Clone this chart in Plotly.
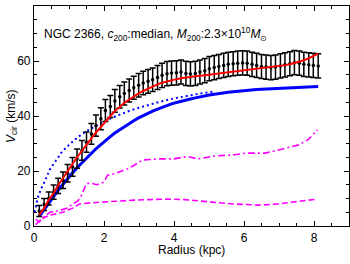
import plotly.graph_objects as go

# observed rotation curve
radius = [0.15, 0.29, 0.42, 0.56, 0.69, 0.83, 0.96, 1.10, 1.23, 1.37, 1.50, 1.64, 1.77, 1.91, 2.04,
          2.18, 2.31, 2.45, 2.58, 2.72, 2.85, 2.99, 3.12, 3.26, 3.39, 3.53, 3.66, 3.80, 3.93, 4.07,
          4.20, 4.34, 4.47, 4.61, 4.74, 4.88, 5.01, 5.15, 5.28, 5.42, 5.55, 5.69, 5.82, 5.96, 6.09,
          6.23, 6.36, 6.50, 6.63, 6.77, 6.90, 7.04, 7.17, 7.31, 7.44, 7.58, 7.71, 7.85, 7.98, 8.12]
v_obs = [5.5, 7.8, 10.0, 12.3, 14.6, 16.6, 19.2, 21.5, 24.5, 27.5, 30.5, 33.5, 36.5, 39.0, 42.0,
         43.5, 45.5, 47.0, 48.2, 49.3, 50.3, 51.2, 52.0, 52.6, 53.2, 54.0, 54.8, 55.4, 55.6, 55.7,
         56.0, 55.5, 55.3, 55.5, 56.0, 56.5, 57.2, 57.6, 58.0, 58.4, 58.8, 59.0, 59.2, 59.3, 59.2,
         58.8, 58.4, 58.0, 57.8, 57.6, 57.8, 58.2, 58.6, 59.0, 59.4, 59.2, 58.8, 58.6, 58.4, 58.2]
v_err = [2.0, 2.2, 2.4, 2.6, 2.8, 3.0, 3.2, 3.4, 3.5, 3.6, 3.7, 3.8, 3.9, 4.0, 4.0,
         4.0, 4.1, 4.1, 4.2, 4.2, 4.2, 4.3, 4.3, 4.3, 4.3, 4.4, 4.4, 4.4, 4.4, 4.4,
         4.4, 4.4, 4.4, 4.4, 4.4, 4.4, 4.4, 4.4, 4.4, 4.4, 4.4, 4.4, 4.4, 4.4, 4.4,
         4.4, 4.4, 4.4, 4.4, 4.4, 4.4, 4.4, 4.4, 4.4, 4.4, 4.4, 4.4, 4.4, 4.4, 4.4]

# total model fit (red)
v_total = [4.0, 6.5, 9.5, 12.0, 14.8, 17.5, 20.0, 22.5, 25.0, 27.3, 29.6, 31.8, 34.0, 36.0, 38.0,
           40.0, 41.8, 43.3, 44.8, 46.0, 47.2, 48.2, 49.1, 50.0, 50.8, 51.5, 52.1, 52.6, 53.0, 53.4,
           53.7, 54.0, 54.2, 54.4, 54.6, 54.8, 55.0, 55.2, 55.4, 55.6, 55.8, 56.0, 56.2, 56.5, 56.7,
           56.9, 57.1, 57.3, 57.5, 57.8, 58.0, 58.3, 58.5, 58.8, 59.2, 59.7, 60.3, 61.0, 61.8, 62.7]

# dark matter halo (blue solid)
v_halo = [3.5, 6.0, 8.5, 10.8, 13.0, 15.2, 17.3, 19.3, 21.2, 23.0, 24.8, 26.5, 28.1, 29.6, 31.1,
          32.5, 33.8, 35.0, 36.2, 37.3, 38.3, 39.3, 40.2, 41.0, 41.8, 42.5, 43.2, 43.8, 44.4, 44.9,
          45.4, 45.8, 46.2, 46.6, 47.0, 47.3, 47.6, 47.9, 48.2, 48.4, 48.6, 48.8, 49.0, 49.2, 49.35,
          49.5, 49.6, 49.7, 49.8, 49.9, 50.0, 50.1, 50.2, 50.3, 50.35, 50.4, 50.5, 50.55, 50.6, 50.7]

# blue dotted curve
r_dot = [0.02, 0.1, 0.2, 0.3, 0.45, 0.6, 0.8, 1.0, 1.25, 1.5, 1.75, 2.0, 2.25, 2.5, 2.75,
         3.0, 3.3, 3.6, 4.0, 4.4, 4.8, 5.1]
v_dot = [5.0, 10.0, 13.5, 16.0, 20.5, 23.5, 27.0, 29.5, 32.3, 34.5, 36.3, 38.0, 39.5, 40.8, 42.0,
         43.0, 44.2, 45.2, 46.4, 47.4, 48.3, 48.8]

# gas (magenta dashed)
r_gas = [0.05, 0.2, 0.46, 0.83, 1.1, 1.3, 1.6, 1.9, 2.4, 2.85, 3.3, 3.8, 4.3, 5.0, 5.7,
         6.4, 6.9, 7.4, 7.85, 8.1]
v_gas = [0.5, 2.5, 4.0, 5.0, 6.5, 8.0, 8.4, 8.7, 9.1, 9.4, 9.6, 9.8, 9.6, 8.7, 8.0,
         7.6, 7.9, 8.7, 9.4, 9.8]

# stars (magenta dash-dot)
r_star = [0.05, 0.15, 0.3, 0.46, 0.7, 0.95, 1.1, 1.25, 1.35, 1.5, 1.65, 1.8, 2.0, 2.1, 2.3,
          2.65, 2.85, 3.1, 3.6, 4.0, 4.38, 4.67, 5.2, 5.67, 6.05, 6.6, 7.1, 7.57, 7.85, 8.0, 8.1]
v_star = [2.5, 1.5, 3.5, 5.0, 5.5, 6.5, 8.0, 9.0, 11.0, 15.5, 15.5, 15.0, 16.0, 18.5, 19.0,
          20.7, 22.0, 24.0, 24.4, 24.4, 25.3, 24.4, 25.5, 25.8, 26.5, 26.5, 28.0, 29.5, 31.6, 33.5, 35.0]

x_ticks = [0, 2, 4, 6, 8]
y_ticks = [0, 20, 40, 60, 80]

FONT = "Liberation Sans, Arial, sans-serif"

fig = go.Figure()
fig.add_trace(go.Scatter(x=r_gas, y=v_gas, mode="lines",
                         line=dict(color="#ff00ff", width=1.6, dash="6px,3px")))
fig.add_trace(go.Scatter(x=r_star, y=v_star, mode="lines",
                         line=dict(color="#ff00ff", width=1.6, dash="7px,3px,2px,3px")))
fig.add_trace(go.Scatter(x=r_dot, y=v_dot, mode="lines",
                         line=dict(color="#0000ff", width=2, dash="2px,3px")))
fig.add_trace(go.Scatter(x=radius, y=v_halo, mode="lines",
                         line=dict(color="#0000ff", width=3)))
fig.add_trace(go.Scatter(x=radius, y=v_obs, mode="markers",
                         marker=dict(color="black", size=3.5),
                         error_y=dict(type="data", array=v_err, color="black",
                                      thickness=1.5, width=3)))
fig.add_trace(go.Scatter(x=radius, y=v_total, mode="lines",
                         line=dict(color="#ff0000", width=2)))

axis_common = dict(showline=True, linecolor="black", linewidth=1.2, mirror="ticks",
                   ticks="inside", ticklen=5, tickwidth=1, tickcolor="black",
                   showgrid=False, zeroline=False, automargin=False,
                   tickfont=dict(family=FONT, size=12, color="black"))

fig.update_xaxes(range=[0, 9], tickvals=x_ticks,
                 minor=dict(dtick=0.5, ticks="inside", ticklen=3, tickcolor="black", showgrid=False),
                 **axis_common)
fig.update_yaxes(range=[0, 80], tickvals=y_ticks,
                 minor=dict(dtick=5, ticks="inside", ticklen=3, tickcolor="black", showgrid=False),
                 **axis_common)

fig.add_annotation(xref="paper", yref="paper", x=0.5, y=-0.109, xanchor="center", yanchor="middle",
                   showarrow=False, text="Radius (kpc)",
                   font=dict(family=FONT, size=12, color="black"))
fig.add_annotation(xref="paper", yref="paper", x=-0.07, y=0.5, xanchor="center", yanchor="middle",
                   showarrow=False, textangle=-90, text="<i>V</i><sub>cir</sub> (km/s)",
                   font=dict(family=FONT, size=12, color="black"))
fig.add_annotation(xref="paper", yref="paper", x=0.025, y=0.875, xanchor="left", yanchor="middle",
                   showarrow=False,
                   text="NGC 2366, <i>c</i><sub>200</sub>:median, <i>M</i><sub>200</sub>:2.3×10<sup>10</sup><i>M</i><sub>⊙</sub>",
                   font=dict(family=FONT, size=12, color="black"))

fig.update_layout(width=350, height=264, margin=dict(l=34, r=1, t=6, b=38),
                  plot_bgcolor="white", paper_bgcolor="white", showlegend=False)

fig.write_html("out.html", config={"displayModeBar": False},
               post_script="document.body.style.margin='0';")
